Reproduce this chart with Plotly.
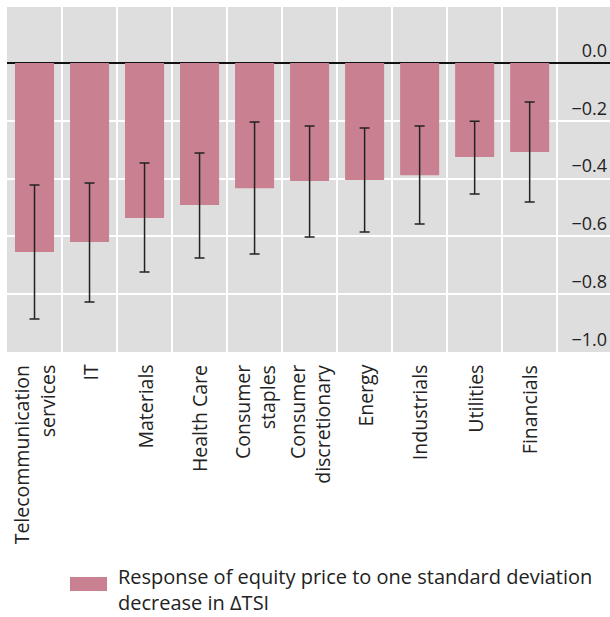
import plotly.graph_objects as go

categories = ["Telecommunication<br>services", "IT", "Materials", "Health Care",
              "Consumer<br>staples", "Consumer<br>discretionary", "Energy",
              "Industrials", "Utilities", "Financials"]
response = [-0.654, -0.619, -0.536, -0.491, -0.433, -0.408, -0.405, -0.388, -0.325, -0.308]
upper = [-0.422, -0.415, -0.346, -0.311, -0.204, -0.218, -0.225, -0.218, -0.201, -0.135]
lower = [-0.886, -0.827, -0.723, -0.675, -0.661, -0.602, -0.585, -0.557, -0.453, -0.481]
y_ticks = [0.0, -0.2, -0.4, -0.6, -0.8, -1.0]
legend_text = "Response of equity price to one standard deviation<br>decrease in ΔTSI"

BAR = "#c98090"
FONT = "Open Sans"
TXT = "#222222"
LABEL_SIZE = 19.5
LINE_H = 1.3 * LABEL_SIZE
X_RANGE = [-0.5, 10.46]

err_plus = [u - v for u, v in zip(upper, response)]
err_minus = [v - l for v, l in zip(response, lower)]

fig = go.Figure()
fig.add_trace(go.Bar(
    x=categories, y=response, width=0.71,
    marker=dict(color=BAR, line=dict(width=0)),
    error_y=dict(type="data", symmetric=False, array=err_plus, arrayminus=err_minus,
                 color=TXT, thickness=1.5, width=5),
    name=legend_text.replace("<br>", " "),
    showlegend=False,
))

W, H = 610, 617
L, R, T, B = 7, 0, 7, 265
pw, ph = W - L - R, H - T - B
px_per_cat = pw / (X_RANGE[1] - X_RANGE[0])

def px(x):
    return (x - L) / pw

def py(y):
    return (H - B - y) / ph

annotations = []
# category labels, rotated; each line placed at its category index on the x axis
for idx, c in enumerate(categories):
    lines = c.split("<br>")
    n = len(lines)
    for i, line in enumerate(lines):
        annotations.append(dict(
            text=line, xref="x", yref="paper",
            x=idx + (i - (n - 1) / 2) * LINE_H / px_per_cat, y=py(364),
            xanchor="center", yanchor="top", textangle=-90,
            showarrow=False, borderpad=0,
            font=dict(size=LABEL_SIZE, family=FONT, color=TXT)))

# legend text
annotations.append(dict(text=legend_text, xref="paper", yref="paper",
                        x=px(117), y=py(616.5), xanchor="left", yanchor="bottom",
                        align="left", showarrow=False, borderpad=0,
                        font=dict(size=20, family=FONT, color=TXT)))

fig.update_layout(
    width=W, height=H,
    margin=dict(l=L, r=R, t=T, b=B),
    paper_bgcolor="white", plot_bgcolor="#dedede",
    font=dict(family=FONT, color=TXT),
    xaxis=dict(type="category", range=X_RANGE, tickson="boundaries",
               showgrid=True, gridcolor="white", gridwidth=1.5,
               showticklabels=False, ticks="", showline=False),
    yaxis=dict(side="right", range=[-1.0, 0.194], tickvals=y_ticks, tickformat=".1f",
               ticklabelposition="inside top", showgrid=True, gridcolor="white",
               gridwidth=1.5, zeroline=True, zerolinecolor="#111111", zerolinewidth=2,
               tickfont=dict(size=18, family=FONT, color=TXT), ticks="",
               showline=False),
    shapes=[dict(type="rect", xref="paper", yref="paper",
                 x0=px(70), x1=px(107), y0=py(591), y1=py(577),
                 fillcolor=BAR, line=dict(width=0))],
    annotations=annotations,
)

fig.write_html("out.html")
